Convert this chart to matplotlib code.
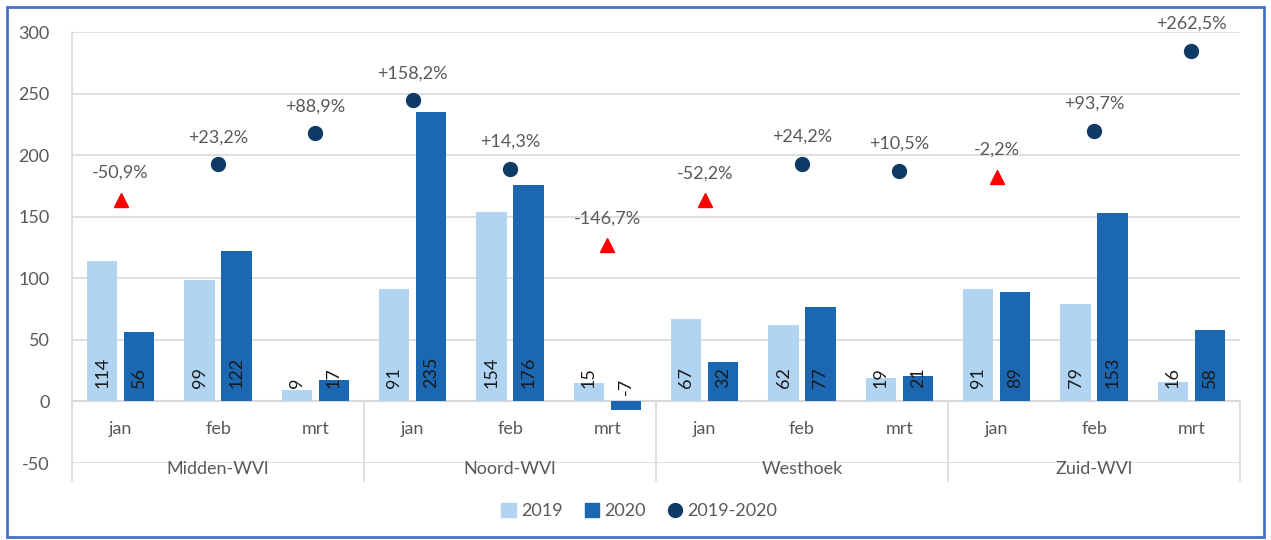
import matplotlib
matplotlib.use("Agg")
import matplotlib.pyplot as plt
import matplotlib.patches as patches
import matplotlib.transforms as mtransforms
from matplotlib.lines import Line2D
import numpy as np

# Data
regions = ['Midden-WVl', 'Noord-WVl', 'Westhoek', 'Zuid-WVl']
months = ['jan', 'feb', 'mrt']
v2019 = [114, 99, 9, 91, 154, 15, 67, 62, 19, 91, 79, 16]
v2020 = [56, 122, 17, 235, 176, -7, 32, 77, 21, 89, 153, 58]
pct = [-50.9, 23.2, 88.9, 158.2, 14.3, -146.7, -52.2, 24.2, 10.5, -2.2, 93.7, 262.5]

c_light = '#B0D4F2'
c_dark = '#1B67B1'
c_navy = '#0E3A66'
c_red = '#FF0000'
c_text = '#595959'
c_grid = '#D9D9D9'

plt.rcParams['font.family'] = ['Lato', 'DejaVu Sans']
plt.rcParams['axes.unicode_minus'] = False

fig = plt.figure(figsize=(12.71, 5.40), dpi=100)
ax = fig.add_axes([72 / 1271, 77 / 540, 1168 / 1271, 431 / 540])

x = np.arange(len(v2019))
w = 0.31
off = 0.19
ax.bar(x - off, v2019, w, color=c_light, zorder=2)
ax.bar(x + off, v2020, w, color=c_dark, zorder=2)

# bar value labels (rotated, near the base)
for xi, a, b in zip(x, v2019, v2020):
    for xx, v in ((xi - off, a), (xi + off, b)):
        ax.annotate(str(v), (xx, 0), xytext=(0, 9.4 if v >= 0 else 4.5),
                    textcoords='offset points', rotation=90,
                    ha='center', va='bottom', fontsize=13, color='#1a1a1a',
                    zorder=3)

ax.set_xlim(-0.5, len(x) - 0.5)
ax.set_ylim(-50, 300)
ax.set_yticks(np.arange(-50, 301, 50))
ax.yaxis.grid(True, color=c_grid, lw=1.2, zorder=0)
ax.set_axisbelow(True)
ax.tick_params(axis='y', length=0, pad=16, labelsize=13, labelcolor=c_text)
ax.set_xticks([])
for s in ax.spines.values():
    s.set_visible(False)
ax.axhline(0, color=c_grid, lw=1.5, zorder=1)

# category axis: months and regions
trans = mtransforms.blended_transform_factory(ax.transData, ax.transAxes)
for i in x:
    ax.text(i, -22, months[i % 3], ha='center', va='center',
            fontsize=13, color=c_text)
for g, name in enumerate(regions):
    ax.text(g * 3 + 1, -0.014, name, transform=trans, ha='center',
            va='center', fontsize=13, color=c_text)
zero_frac = 50 / 350
for b in np.arange(-0.5, len(x), 3):
    ax.add_line(Line2D([b, b], [zero_frac, -0.042], transform=trans,
                       color=c_grid, lw=1.2, clip_on=False))
ax.add_line(Line2D([-0.5, -0.5], [1, zero_frac], transform=trans,
                   color=c_grid, lw=1.2, clip_on=False))

# secondary (hidden) axis for change percentages
ax2 = ax.twinx()
ax2.set_ylim(-605, 302)
ax2.axis('off')
for xi, p in zip(x, pct):
    if p < 0:
        ax2.plot(xi, p, marker='^', color=c_red, ms=10, ls='none', zorder=4)
    else:
        ax2.plot(xi, p, marker='o', color=c_navy, ms=10, ls='none', zorder=4)
    lbl = f"{p:+.1f}%".replace('.', ',')
    ax2.annotate(lbl, (xi, p), xytext=(0, 19.5), textcoords='offset points',
                 ha='center', va='center', fontsize=13, color=c_text)

# legend
handles = [
    patches.Patch(color=c_light, label='2019'),
    patches.Patch(color=c_dark, label='2020'),
    Line2D([], [], marker='o', color=c_navy, ls='none', ms=10, label='2019-2020'),
]
fig.legend(handles=handles, loc='center', bbox_to_anchor=(0.503, 1 - 511 / 540),
           ncol=3, frameon=False, fontsize=13, labelcolor=c_text,
           handlelength=0.8, handleheight=0.8, handletextpad=0.3,
           columnspacing=1.2)

# outer blue border
fig.add_artist(patches.Rectangle((7 / 1271, 3 / 540), 1257 / 1271, 530 / 540,
                                 transform=fig.transFigure, fill=False,
                                 ec='#4472C4', lw=2))

fig.savefig('out.png', dpi=100)
